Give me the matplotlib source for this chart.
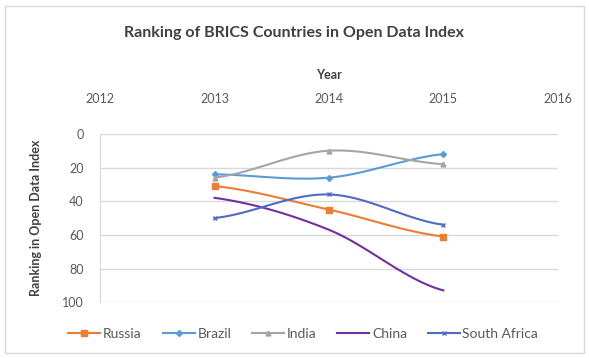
import numpy as np
import matplotlib
matplotlib.use("Agg")
import matplotlib.pyplot as plt
from matplotlib.patches import Rectangle

plt.rcParams['font.family'] = ['Lato', 'DejaVu Sans']

years = [2013, 2014, 2015]
russia = [31, 45, 61]
brazil = [24, 26, 12]
india = [26, 10, 18]
china = [38, 57, 93]
south_africa = [50, 36, 54]

x_ticks = [2012, 2013, 2014, 2015, 2016]
y_ticks = [0, 20, 40, 60, 80, 100]


def smooth(xs, ys, n=40, tension=1 / 6):
    """Bezier smoothing through the given points (Catmull-Rom style)."""
    xs = np.asarray(xs, float)
    ys = np.asarray(ys, float)
    px = np.concatenate([[2 * xs[0] - xs[1]], xs, [2 * xs[-1] - xs[-2]]])
    py = np.concatenate([[ys[0]], ys, [ys[-1]]])
    out_x, out_y = [], []
    t = np.linspace(0, 1, n)
    for i in range(1, len(px) - 2):
        p0, p1, p2, p3 = [np.array([px[j], py[j]]) for j in range(i - 1, i + 3)]
        c1 = p1 + (p2 - p0) * tension
        c2 = p2 - (p3 - p1) * tension
        b = ((1 - t) ** 3)[:, None] * p1 + (3 * (1 - t) ** 2 * t)[:, None] * c1 \
            + (3 * (1 - t) * t ** 2)[:, None] * c2 + (t ** 3)[:, None] * p2
        out_x.extend(b[:, 0])
        out_y.extend(b[:, 1])
    return np.array(out_x), np.array(out_y)


fig = plt.figure(figsize=(5.89, 3.58), dpi=100)
fig.patches.append(Rectangle((0.008, 0.015), 0.984, 0.968, transform=fig.transFigure,
                             fill=False, edgecolor='#d9d9d9', linewidth=1))

ax = fig.add_axes([0.170, 0.156, 0.777, 0.470])

series = [
    ("Russia", russia, '#ED7D31', 's', 5),
    ("Brazil", brazil, '#5B9BD5', 'D', 3),
    ("India", india, '#A5A5A5', '^', 3.5),
    ("China", china, '#7030A0', None, 0),
    ("South Africa", south_africa, '#4F6BC4', 'x', 3.5),
]

for name, vals, color, marker, ms in series:
    sx, sy = smooth(years, vals)
    ax.plot(sx, sy, color=color, linewidth=1.5)
    ax.plot(years, vals, linestyle='none', marker=marker, markersize=ms,
            color=color, markeredgewidth=1.0)
    ax.plot([], [], color=color, linewidth=1.5, marker=marker, markersize=ms,
            markeredgewidth=1.0, label=name)

ax.set_xlim(2012, 2016)
ax.set_ylim(100, 0)
ax.set_xticks(x_ticks)
ax.set_yticks(y_ticks)
ax.xaxis.tick_top()
ax.xaxis.set_label_position('top')
ax.tick_params(axis='both', length=0, labelsize=9, colors='#595959')
ax.tick_params(axis='x', pad=21)
ax.tick_params(axis='y', pad=12)
ax.grid(axis='y', color='#d9d9d9', linewidth=1)
for s in ['top', 'right', 'bottom']:
    ax.spines[s].set_visible(False)
ax.spines['left'].set_color('#d9d9d9')
ax.set_axisbelow(True)

ax.set_xlabel('Year', fontsize=9, fontweight='bold', color='#404040', labelpad=10)
ax.set_ylabel('Ranking in Open Data Index', fontsize=9, fontweight='bold',
              color='#404040', labelpad=14)

fig.text(0.5, 0.907, 'Ranking of BRICS Countries in Open Data Index',
         ha='center', va='center', fontsize=11.5, fontweight='bold', color='#404040')

fig.legend(loc='center', bbox_to_anchor=(0.515, 0.068), ncol=5, frameon=False,
           fontsize=10, handlelength=2.3, columnspacing=1.5, handletextpad=0.2,
           labelcolor='#595959')

fig.savefig('out.png', dpi=100)
